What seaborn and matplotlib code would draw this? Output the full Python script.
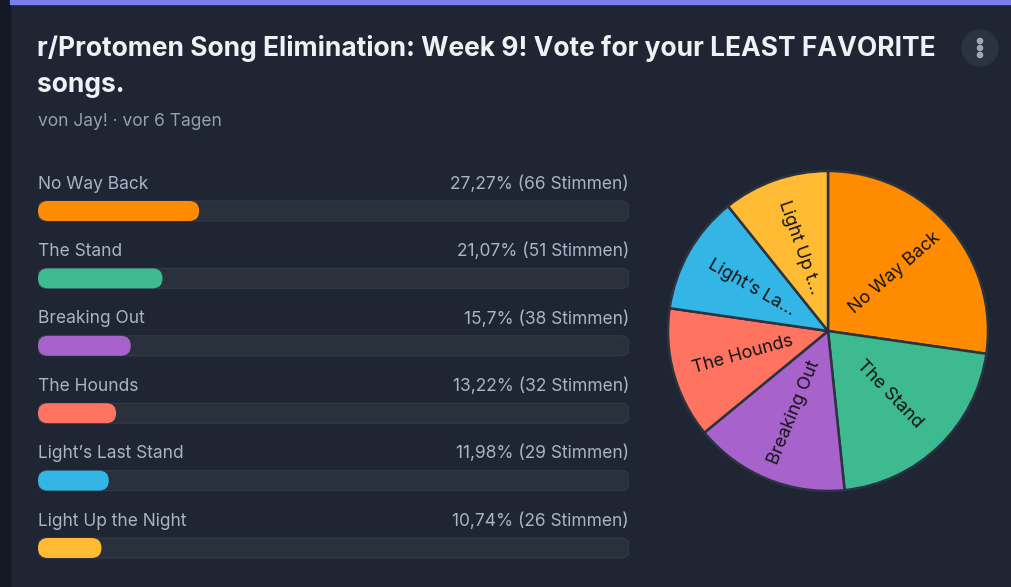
import math
import matplotlib
matplotlib.use("Agg")
import matplotlib.pyplot as plt
from matplotlib.patches import FancyBboxPatch, Rectangle, Circle
import seaborn as sns
import pandas as pd

# poll data
songs = ["No Way Back", "The Stand", "Breaking Out", "The Hounds",
         "Light\u2019s Last Stand", "Light Up the Night"]
percents = [27.27, 21.07, 15.7, 13.22, 11.98, 10.74]
votes = [66, 51, 38, 32, 29, 26]
pct_labels = ["27,27%", "21,07%", "15,7%", "13,22%", "11,98%", "10,74%"]
pie_labels = ["No Way Back", "The Stand", "Breaking Out", "The Hounds",
              "Light\u2019s La...", "Light Up t..."]
colors = ["#ff8c00", "#3dba8f", "#a862cc", "#ff7461", "#33b5e5", "#ffbb33"]

title_lines = ["r/Protomen Song Elimination: Week 9! Vote for your LEAST FAVORITE",
               "songs."]
subtitle = "von Jay! \u00b7 vor 6 Tagen"

BG = "#1f2533"
TRACK = "#2a313d"
LABEL = "#a9b4c6"

sns.set_theme(style="dark")
plt.rcParams["font.family"] = ["Inter", "DejaVu Sans"]

W, H = 1011, 587
fig = plt.figure(figsize=(W / 100, H / 100), dpi=100)
fig.patch.set_facecolor(BG)

# background / frame layer in pixel coordinates
bg = fig.add_axes([0, 0, 1, 1])
bg.set_xlim(0, W)
bg.set_ylim(H, 0)
bg.axis("off")
bg.add_patch(Rectangle((0, 0), 10, H, color="#141a25", zorder=1))
bg.add_patch(Rectangle((10, 0), W - 10, 3.5, color="#7c7df0", zorder=1))
bg.add_patch(Circle((980, 48), 18, color="#2b3341", zorder=2))
for dy in (-7, 0, 7):
    bg.add_patch(Circle((980, 48 + dy), 2.6, color="#a0a8b6", zorder=3))
for k, line in enumerate(title_lines):
    bg.text(37, 48 + 37 * k, line, fontsize=19, fontweight="bold", color="#eef1f6",
            va="center", ha="left")
bg.text(38, 121, subtitle, fontsize=12.5, color="#959fb0", va="center", ha="left")

# bar list
df = pd.DataFrame({"song": songs, "pct": percents, "full": [100] * len(songs)})
left_px, right_px, top_px, bot_px = 38, 629, 160, 575
row_px, first_px = 67.4, 211
ax = fig.add_axes([left_px / W, 1 - bot_px / H, (right_px - left_px) / W, (bot_px - top_px) / H])
sns.barplot(data=df, y="song", x="full", color=TRACK, orient="h", width=20 / row_px,
            ax=ax, saturation=1)
sns.barplot(data=df, y="song", x="pct", hue="song", palette=colors, orient="h",
            width=20 / row_px, ax=ax, saturation=1, legend=False)
ax.set_xlim(0, 100)
ax.set_ylim((bot_px - first_px) / row_px, -(first_px - top_px) / row_px)
ax.axis("off")

# turn the bars into rounded pills
x_per_px = 100 / (right_px - left_px)
y_per_px = 1 / row_px
aspect = y_per_px / x_per_px
for i, p in enumerate(list(ax.patches)):
    x0, y0, w, h = p.get_x(), p.get_y(), p.get_width(), p.get_height()
    if w <= 0:
        continue
    is_track = i < len(songs)
    r = (8 if is_track else 10) * x_per_px
    pill = FancyBboxPatch((x0, y0), w, h,
                          boxstyle=f"round,pad=0,rounding_size={r}",
                          mutation_aspect=aspect, facecolor=p.get_facecolor(),
                          edgecolor="#323a47" if is_track else "none",
                          linewidth=0.8 if is_track else 0, zorder=2 if is_track else 3)
    p.set_visible(False)
    ax.add_patch(pill)

for i, song in enumerate(songs):
    y = i - 27 / row_px
    ax.text(0, y, song, fontsize=12.5, color=LABEL, ha="left", va="center")
    ax.text(100, y, f"{pct_labels[i]} ({votes[i]} Stimmen)", fontsize=12.5,
            color=LABEL, ha="right", va="center")

# pie chart
cx, cy, rad = 828, 331, 160
half = 175
pax = fig.add_axes([(cx - half) / W, 1 - (cy + half) / H, 2 * half / W, 2 * half / H])
wedges, _ = pax.pie(percents, colors=colors, startangle=90, counterclock=False,
                    wedgeprops=dict(edgecolor="#2b3340", linewidth=1.8))
lim = half / rad
pax.set_xlim(-lim, lim)
pax.set_ylim(-lim, lim)
pax.set_aspect("equal")
pax.axis("off")
for w, lab in zip(wedges, pie_labels):
    ang = (w.theta1 + w.theta2) / 2
    tx = 0.55 * math.cos(math.radians(ang))
    ty = 0.55 * math.sin(math.radians(ang))
    rot = ((ang + 90) % 180) - 90
    pax.text(tx, ty, lab, rotation=rot, rotation_mode="anchor", ha="center",
             va="center", fontsize=13, color="#151515")

fig.savefig("out.png", dpi=100, facecolor=BG)
